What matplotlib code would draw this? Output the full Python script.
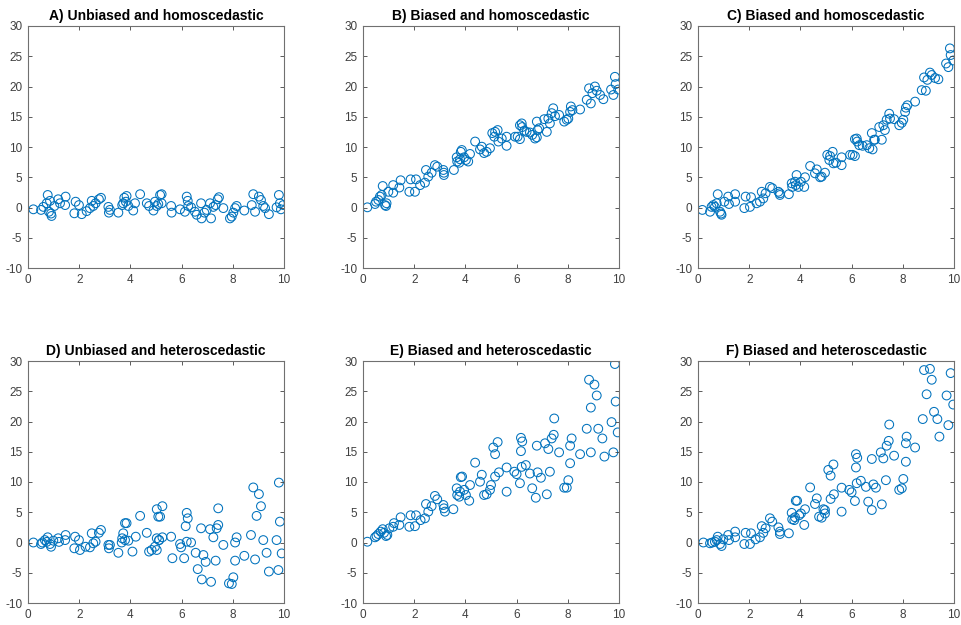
import matplotlib
matplotlib.use("Agg")
import matplotlib.pyplot as plt

plt.rcParams["font.family"] = ["Liberation Sans", "DejaVu Sans"]
plt.rcParams["axes.unicode_minus"] = False

titles = [
    "A) Unbiased and homoscedastic",
    "B) Biased and homoscedastic",
    "C) Biased and homoscedastic",
    "D) Unbiased and heteroscedastic",
    "E) Biased and heteroscedastic",
    "F) Biased and heteroscedastic",
]

x_ticks = [0, 2, 4, 6, 8, 10]
y_ticks = [-10, -5, 0, 5, 10, 15, 20, 25, 30]

a_x = [0.21, 0.51, 0.6, 0.77, 0.73, 0.86, 0.9, 0.92, 0.82, 1.03, 1.18, 1.25, 1.45, 1.47,
       1.86, 1.81, 1.99, 2.1, 2.29, 2.42, 2.49, 2.55, 2.64, 2.77, 2.85, 3.14, 3.2, 3.16,
       3.53, 3.68, 3.76, 3.82, 3.85, 3.72, 3.92, 4.11, 4.18, 4.38, 4.64, 4.73, 4.9, 4.96,
       5.03, 5.16, 5.22, 5.22, 5.09, 5.59, 5.61, 5.94, 6.13, 6.2, 6.24, 6.26, 6.37, 6.52,
       6.59, 6.76, 6.78, 6.89, 6.98, 7.11, 7.15, 7.24, 7.33, 7.41, 7.46, 7.63, 7.89, 7.96,
       8.02, 8.09, 8.15, 8.45, 8.74, 8.8, 8.87, 9.02, 9.1, 9.19, 9.26, 9.41, 9.71, 9.8,
       9.84, 9.88, 9.97]
a_y = [-0.3, -0.4, 0.1, 2.07, 0.7, 1.1, -1.0, -1.4, -0.7, 0.25, 1.36, 0.7, 0.4, 1.8,
       0.96, -0.96, 0.4, -1.1, -0.6, -0.1, 1.1, 0.25, 0.7, 1.36, 1.6, 0.1, -0.4, -0.85,
       -0.85, 0.4, 1.6, 0.96, 1.9, 0.7, 0.25, -0.5, 0.7, 2.2, 0.7, 0.25, -0.5, 0.96,
       0.25, 2.07, 2.2, 0.7, 0.58, 0.25, -0.85, -0.3, -0.7, 1.8, 1.1, 0.25, 0.03, -0.7,
       -1.2, 0.7, -1.8, -0.85, -0.4, 0.7, -1.8, 0.1, 0.4, 1.36, 1.7, -0.1, -1.8, -1.5,
       -0.85, -0.1, 0.25, -0.5, 0.4, 2.2, -0.7, 1.8, 1.24, 0.25, -0.1, -1.1, 0.03, 2.07,
       0.7, -0.3, 0.4]

b_x = [0.17, 0.47, 0.51, 0.6, 0.66, 0.73, 0.77, 0.86, 0.92, 0.9, 0.99, 1.18, 1.18, 1.42,
       1.47, 1.81, 1.86, 2.03, 2.07, 2.23, 2.42, 2.46, 2.55, 2.68, 2.81, 2.9, 3.14, 3.16,
       3.16, 3.55, 3.66, 3.68, 3.76, 3.82, 3.86, 3.79, 3.95, 4.02, 4.11, 4.18, 4.38, 4.57,
       4.64, 4.73, 4.83, 4.96, 5.05, 5.16, 5.26, 5.13, 5.29, 5.42, 5.61, 5.61, 5.94, 6.04,
       6.13, 6.2, 6.22, 6.13, 6.3, 6.39, 6.52, 6.61, 6.72, 6.79, 6.82, 6.79, 6.88, 7.08,
       7.18, 7.24, 7.3, 7.37, 7.43, 7.5, 7.66, 7.86, 7.96, 8.02, 8.09, 8.12, 8.18, 8.48,
       8.74, 8.83, 8.9, 8.96, 9.06, 9.13, 9.26, 9.39, 9.69, 9.78, 9.84, 9.87, 9.97]
b_y = [0.03, 0.58, 0.96, 1.24, 1.8, 2.07, 3.55, 0.4, 0.7, 0.25, 2.6, 3.7, 2.45, 3.3,
       4.5, 2.6, 4.65, 2.6, 4.65, 3.7, 4.1, 6.2, 5.1, 5.75, 7.0, 6.75, 6.2, 5.75,
       5.37, 6.2, 8.3, 7.6, 7.4, 9.2, 9.5, 7.97, 8.3, 7.85, 7.6, 8.85, 10.9, 9.6,
       10.05, 9.0, 9.2, 9.8, 12.3, 12.5, 12.8, 11.7, 10.9, 11.4, 11.7, 10.2, 11.7, 11.7,
       13.6, 13.9, 13.3, 11.3, 12.7, 12.5, 12.4, 12.0, 11.4, 14.2, 12.8, 11.6, 13.1, 14.6,
       12.5, 14.7, 13.9, 15.6, 16.4, 15.1, 15.3, 14.2, 14.5, 14.7, 15.8, 16.7, 16.1, 16.2,
       17.8, 19.7, 17.2, 18.9, 20.0, 19.3, 18.6, 17.9, 19.5, 18.6, 21.6, 20.4, 19.5]

c_x = [0.17, 0.47, 0.53, 0.6, 0.66, 0.73, 0.77, 0.86, 0.92, 0.9, 1.03, 1.18, 1.21, 1.45,
       1.45, 1.81, 1.86, 2.03, 2.07, 2.29, 2.42, 2.49, 2.55, 2.64, 2.81, 2.9, 3.14, 3.2,
       3.2, 3.55, 3.66, 3.68, 3.79, 3.85, 3.82, 3.92, 4.02, 4.15, 4.18, 4.38, 4.57, 4.64,
       4.77, 4.83, 4.96, 5.05, 5.16, 5.26, 5.13, 5.29, 5.39, 5.61, 5.61, 5.94, 6.04, 6.13,
       6.2, 6.22, 6.13, 6.3, 6.43, 6.59, 6.69, 6.79, 6.82, 6.88, 6.91, 7.08, 7.18, 7.24,
       7.3, 7.37, 7.47, 7.5, 7.66, 7.86, 7.96, 8.02, 8.09, 8.12, 8.18, 8.48, 8.74, 8.83,
       8.9, 8.96, 9.06, 9.13, 9.26, 9.39, 9.69, 9.78, 9.84, 9.87, 9.97]
c_y = [-0.4, -0.7, 0.1, 0.4, 0.1, 0.7, 2.2, -0.7, -1.2, -1.0, 0.96, 1.8, 0.58, 2.2,
       0.96, -0.1, 1.8, 0.1, 1.7, 0.7, 0.96, 2.6, 1.5, 2.35, 3.4, 3.2, 2.6, 2.07,
       2.35, 2.2, 4.0, 3.4, 4.26, 5.37, 3.7, 3.4, 4.26, 3.4, 5.0, 6.86, 5.65, 6.3,
       5.0, 5.1, 5.75, 8.7, 8.5, 9.2, 7.85, 7.3, 7.4, 7.0, 8.3, 8.7, 8.7, 11.3,
       11.4, 10.9, 8.5, 10.3, 10.2, 10.3, 9.8, 12.3, 9.6, 11.2, 11.2, 13.3, 11.2, 13.6,
       12.8, 14.5, 15.5, 14.7, 14.6, 13.6, 14.0, 14.5, 15.8, 16.5, 16.9, 17.5, 19.4, 21.5,
       19.3, 21.1, 22.3, 21.9, 21.4, 21.2, 23.8, 23.2, 26.3, 25.2, 24.3]

d_x = [0.21, 0.51, 0.56, 0.66, 0.77, 0.73, 0.86, 0.9, 0.99, 1.18, 1.21, 1.45, 1.47, 1.84,
       1.81, 2.03, 1.99, 2.25, 2.42, 2.49, 2.55, 2.64, 2.77, 2.85, 3.14, 3.16, 3.2, 3.53,
       3.66, 3.68, 3.72, 3.79, 3.85, 3.79, 3.92, 4.08, 4.21, 4.38, 4.64, 4.73, 4.83, 4.96,
       5.03, 5.09, 5.12, 5.03, 5.03, 5.12, 5.25, 5.16, 5.25, 5.59, 5.64, 5.94, 5.98, 6.1,
       6.2, 6.24, 6.16, 6.2, 6.37, 6.55, 6.63, 6.79, 6.85, 6.94, 6.76, 7.11, 7.15, 7.24,
       7.33, 7.37, 7.43, 7.43, 7.63, 7.85, 7.96, 8.02, 8.09, 8.09, 8.15, 8.45, 8.71, 8.8,
       8.87, 8.93, 9.02, 9.1, 9.19, 9.32, 9.41, 9.71, 9.78, 9.8, 9.84, 9.91]
d_y = [0.0, -0.25, 0.0, 0.4, 0.86, 0.1, -0.25, -0.7, 0.3, 0.7, 0.1, 0.4, 1.24, 0.96,
       -0.96, -1.24, 0.4, -0.7, -0.8, 1.52, -0.13, 0.13, 1.6, 2.07, -0.4, -0.96, -0.4, -1.7,
       0.0, 0.7, 1.52, 3.2, 3.2, 0.4, 0.3, -1.5, 0.96, 4.4, 1.6, -1.5, -1.24, -0.7,
       5.5, 4.27, 0.4, 0.7, -1.24, 0.4, 6.0, 4.27, 0.86, 0.96, -2.6, -0.25, -0.8, -2.6,
       4.9, 4.0, 2.7, 0.13, 0.0, -1.7, -4.4, -6.1, -2.07, -3.2, 2.35, 2.2, -6.5, 0.86,
       -3.0, 2.35, 2.9, 5.65, -0.4, -6.75, -6.86, -5.75, 0.0, -3.0, 0.86, -2.2, 1.24, 9.1,
       -2.8, 4.4, 8.0, 6.0, 0.4, -1.7, -4.8, 0.4, -4.55, 9.9, 3.45, -1.8]

e_x = [0.17, 0.47, 0.53, 0.6, 0.69, 0.77, 0.82, 0.9, 0.95, 1.03, 1.18, 1.21, 1.42, 1.47,
       1.81, 1.86, 2.03, 2.07, 2.25, 2.42, 2.46, 2.55, 2.68, 2.81, 2.9, 3.14, 3.16, 3.2,
       3.53, 3.66, 3.68, 3.76, 3.82, 3.87, 3.79, 3.95, 4.02, 4.15, 4.18, 4.38, 4.57, 4.64,
       4.73, 4.83, 4.96, 5.0, 5.09, 5.16, 5.26, 5.16, 5.31, 5.61, 5.61, 5.91, 6.0, 6.13,
       6.17, 6.22, 6.17, 6.2, 6.36, 6.52, 6.61, 6.75, 6.79, 6.82, 6.95, 7.11, 7.18, 7.24,
       7.3, 7.37, 7.45, 7.47, 7.66, 7.86, 7.96, 8.02, 8.09, 8.09, 8.15, 8.48, 8.74, 8.83,
       8.9, 8.9, 9.04, 9.13, 9.19, 9.35, 9.43, 9.71, 9.78, 9.84, 9.87, 9.95]
e_y = [0.13, 0.86, 1.07, 1.4, 1.8, 2.2, 1.6, 1.07, 1.24, 2.35, 2.6, 3.2, 2.9, 4.17,
       2.6, 4.5, 2.7, 4.5, 3.7, 4.0, 6.36, 5.1, 6.0, 7.7, 7.14, 6.2, 5.65, 5.1,
       5.5, 8.96, 7.85, 7.57, 10.8, 10.9, 8.4, 8.7, 7.85, 6.9, 9.5, 13.2, 10.05, 11.2,
       7.85, 7.97, 8.7, 9.5, 15.7, 14.6, 16.6, 10.9, 11.6, 12.4, 8.4, 11.7, 11.3, 9.8,
       17.3, 16.7, 15.1, 12.5, 12.8, 11.4, 8.96, 7.4, 16.0, 11.6, 10.7, 16.4, 7.97, 15.45,
       11.7, 17.2, 17.8, 20.5, 14.9, 9.06, 9.06, 10.3, 13.1, 16.0, 17.2, 14.6, 18.8, 26.9,
       22.3, 14.9, 26.1, 24.3, 18.8, 17.2, 14.2, 19.9, 14.9, 29.5, 23.3, 18.2]

f_x = [0.21, 0.47, 0.56, 0.66, 0.77, 0.73, 0.86, 0.92, 0.99, 1.18, 1.21, 1.45, 1.45, 1.81,
       1.86, 2.03, 2.07, 2.25, 2.42, 2.49, 2.55, 2.64, 2.81, 2.9, 3.14, 3.2, 3.2, 3.55,
       3.66, 3.68, 3.76, 3.82, 3.87, 3.79, 3.95, 4.02, 4.15, 4.18, 4.38, 4.57, 4.64, 4.73,
       4.9, 4.83, 4.96, 4.96, 5.09, 5.18, 5.29, 5.18, 5.31, 5.61, 5.61, 5.91, 6.0, 6.13,
       6.17, 6.22, 6.17, 6.2, 6.36, 6.56, 6.65, 6.79, 6.79, 6.85, 6.95, 7.14, 7.18, 7.24,
       7.34, 7.37, 7.45, 7.47, 7.66, 7.86, 7.96, 8.02, 8.12, 8.12, 8.15, 8.48, 8.78, 8.83,
       8.93, 9.06, 9.13, 9.22, 9.35, 9.43, 9.71, 9.78, 9.87, 9.97]
f_y = [0.0, -0.13, 0.0, 0.13, 0.96, 0.4, -0.25, -0.58, 0.53, 1.24, 0.4, 1.8, 0.86, -0.25,
       1.6, -0.25, 1.52, 0.53, 0.86, 2.7, 1.6, 2.35, 4.0, 3.45, 2.5, 1.8, 1.4, 1.52,
       4.9, 3.84, 3.7, 6.9, 6.9, 4.17, 4.5, 4.8, 2.9, 5.5, 9.1, 6.36, 7.3, 4.27,
       5.5, 4.1, 5.37, 4.8, 12.0, 11.05, 12.9, 7.2, 7.97, 9.06, 5.1, 8.7, 8.3, 6.86,
       14.6, 14.0, 12.4, 9.8, 10.2, 9.2, 6.75, 5.37, 13.8, 9.6, 9.06, 14.9, 6.3, 13.9,
       10.3, 16.0, 16.8, 19.5, 14.35, 8.7, 8.96, 10.5, 13.35, 16.4, 17.5, 15.7, 20.4, 28.5,
       24.5, 28.7, 26.9, 21.6, 20.4, 17.5, 24.3, 19.4, 28.0, 22.8]

panels = [(a_x, a_y), (b_x, b_y), (c_x, c_y), (d_x, d_y), (e_x, e_y), (f_x, f_y)]

W, H = 962, 625
fig = plt.figure(figsize=(W / 100, H / 100), dpi=100)

lefts = [28, 363, 698]
tops = [26, 361]
ax_w, ax_h = 256, 242
axis_color = "#404040"
marker_color = "#0072BD"

for i, (xs, ys) in enumerate(panels):
    row, col = divmod(i, 3)
    l = lefts[col] / W
    b = 1 - (tops[row] + ax_h) / H
    ax = fig.add_axes([l, b, ax_w / W, ax_h / H])
    ax.scatter(xs, ys, s=40, facecolors="none", edgecolors=marker_color, linewidths=0.75)
    ax.set_xlim(0, 10)
    ax.set_ylim(-10, 30)
    ax.set_xticks(x_ticks)
    ax.set_yticks(y_ticks)
    ax.tick_params(direction="in", length=3, width=0.6, colors=axis_color,
                   labelsize=8.5, top=True, right=True, pad=4)
    for sp in ax.spines.values():
        sp.set_color("#707070")
        sp.set_linewidth(0.8)
    ax.set_title(titles[i], fontsize=10, fontweight="bold", color="black", pad=4)

fig.savefig("out.png", dpi=100)
